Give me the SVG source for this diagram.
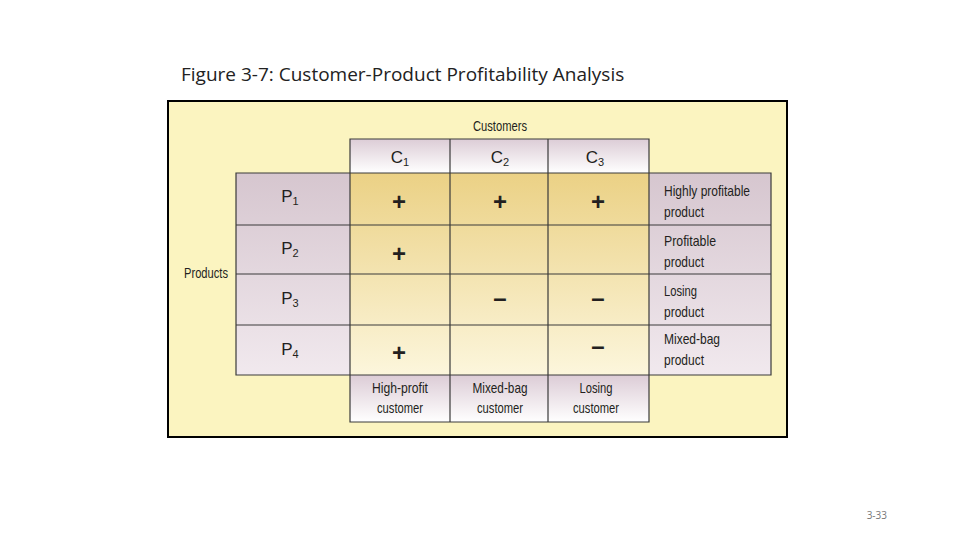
<svg xmlns="http://www.w3.org/2000/svg" width="960" height="540" viewBox="0 0 960 540">
<defs>
<linearGradient id="gold" x1="0" y1="0" x2="0" y2="1"><stop offset="0" stop-color="#ebd185"/><stop offset="1" stop-color="#fcf6dc"/></linearGradient>
<linearGradient id="purp" x1="0" y1="0" x2="0" y2="1"><stop offset="0" stop-color="#d6c6cf"/><stop offset="1" stop-color="#f1e9ee"/></linearGradient>
<linearGradient id="hdr" x1="0" y1="0" x2="0" y2="1"><stop offset="0" stop-color="#dcccd6"/><stop offset="1" stop-color="#ffffff"/></linearGradient>
</defs>
<style>
.t{font-family:"Liberation Sans",Arial,sans-serif;fill:#231f20;font-size:15px}
.c{text-anchor:middle}
.s{font-size:24px;font-weight:bold;text-anchor:middle}
.ln{stroke:#3a3a3a;stroke-width:1.2;fill:none}
</style>
<rect width="960" height="540" fill="#fff"/>
<text x="181" y="81" style="font-family:'Open Sans','Liberation Sans',sans-serif;font-size:19px;fill:#222">Figure 3-7:  Customer-Product Profitability Analysis</text>
<rect x="168" y="101" width="619" height="336" fill="#fbf4c0" stroke="#000" stroke-width="2"/>
<g id="headers">
<rect x="350" y="139" width="299" height="34" fill="url(#hdr)"/>
<rect x="350" y="375" width="299" height="47" fill="url(#hdr)"/>
<rect x="236" y="173" width="114" height="202" fill="url(#purp)"/>
<rect x="649" y="173" width="122" height="202" fill="url(#purp)"/>
<rect x="350" y="173" width="299" height="202" fill="url(#gold)"/>
</g>
<g id="grid">
<path class="ln" d="M350 139H649V422H350Z M236 173H771V375H236Z M450 139V422 M548 139V422 M236 225H771 M236 274H771 M236 325H771"/>
</g>
<g id="labels" class="t">
<text x="500" y="131" class="c" font-size="14" textLength="54" lengthAdjust="spacingAndGlyphs">Customers</text>
<text x="206" y="278" class="c" font-size="14" textLength="44" lengthAdjust="spacingAndGlyphs">Products</text>
<text x="400" y="163" class="c" font-size="17">C<tspan font-size="11" dy="3">1</tspan></text>
<text x="500" y="163" class="c" font-size="17">C<tspan font-size="11" dy="3">2</tspan></text>
<text x="595" y="163" class="c" font-size="17">C<tspan font-size="11" dy="3">3</tspan></text>
<text x="290" y="202" class="c" font-size="17">P<tspan font-size="11" dy="3">1</tspan></text>
<text x="290" y="254" class="c" font-size="17">P<tspan font-size="11" dy="3">2</tspan></text>
<text x="290" y="304" class="c" font-size="17">P<tspan font-size="11" dy="3">3</tspan></text>
<text x="290" y="355" class="c" font-size="17">P<tspan font-size="11" dy="3">4</tspan></text>
<text x="399" y="210" class="s">+</text><text x="500" y="210" class="s">+</text><text x="598" y="210" class="s">+</text>
<text x="399" y="262" class="s">+</text>
<text x="500" y="306" class="s">–</text><text x="598" y="306" class="s">–</text>
<text x="399" y="361" class="s">+</text><text x="598" y="354" class="s">–</text>
<g font-size="15">
<text x="664" y="196" textLength="86" lengthAdjust="spacingAndGlyphs">Highly profitable</text>
<text x="664" y="217" textLength="40" lengthAdjust="spacingAndGlyphs">product</text>
<text x="664" y="246" textLength="52" lengthAdjust="spacingAndGlyphs">Profitable</text>
<text x="664" y="267" textLength="40" lengthAdjust="spacingAndGlyphs">product</text>
<text x="664" y="296" textLength="33" lengthAdjust="spacingAndGlyphs">Losing</text>
<text x="664" y="317" textLength="40" lengthAdjust="spacingAndGlyphs">product</text>
<text x="664" y="344" textLength="56" lengthAdjust="spacingAndGlyphs">Mixed-bag</text>
<text x="664" y="365" textLength="40" lengthAdjust="spacingAndGlyphs">product</text>
<text x="400" y="393" class="c" textLength="56" lengthAdjust="spacingAndGlyphs">High-profit</text>
<text x="400" y="413" class="c" textLength="46" lengthAdjust="spacingAndGlyphs">customer</text>
<text x="500" y="393" class="c" textLength="55" lengthAdjust="spacingAndGlyphs">Mixed-bag</text>
<text x="500" y="413" class="c" textLength="46" lengthAdjust="spacingAndGlyphs">customer</text>
<text x="596" y="393" class="c" textLength="33" lengthAdjust="spacingAndGlyphs">Losing</text>
<text x="596" y="413" class="c" textLength="46" lengthAdjust="spacingAndGlyphs">customer</text>
</g>
</g>
<text x="887" y="519" style="font-family:'Open Sans','Liberation Sans',sans-serif;font-size:10px;fill:#777;text-anchor:end">3-33</text>
</svg>
